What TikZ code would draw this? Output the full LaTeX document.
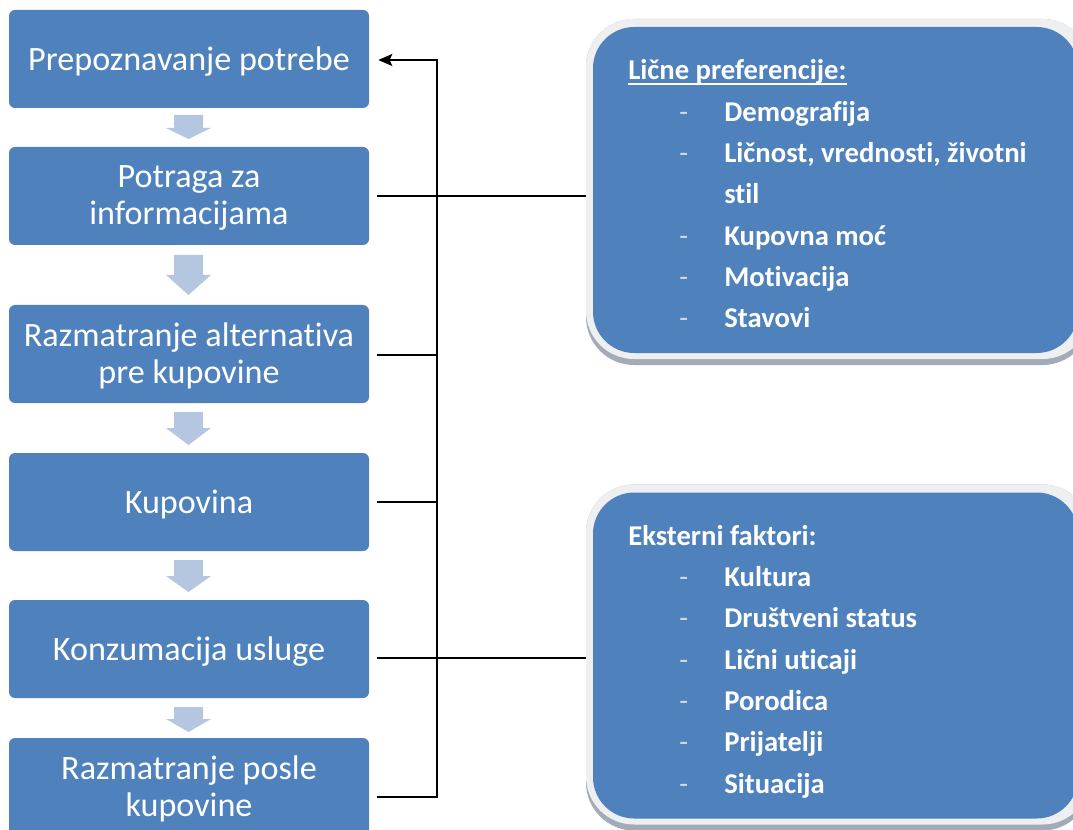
\documentclass[tikz,border=0pt]{standalone}
\usepackage{fontspec}
\setmainfont[RawFeature=-liga]{Carlito}
\usetikzlibrary{calc,arrows.meta}

\definecolor{boxblue}{HTML}{4F81BD}
\definecolor{arrowblue}{HTML}{B4C6E0}
\definecolor{rimgray}{HTML}{EEEFF1}
\definecolor{shadowgray}{HTML}{A3ABB8}
\definecolor{dashgray}{HTML}{D3DAE6}

% one drawing unit = one pixel
\newlength\pxu
\setlength\pxu{0.75pt}

% heading with a rule a little under the baseline
\newcommand\underheading[1]{\setbox0\hbox{#1}\rlap{\rule[-5\pxu]{\wd0}{1.5\pxu}}\box0}
% one list entry: light dash, then the bold text
\newcommand\entry[1]{\makebox[96\pxu][l]{\hspace{51\pxu}\textcolor{dashgray}{\mdseries -}}#1}
% block arrow pointing down: shaft top, head base, tip (y in px)
\newcommand\flowarr[3]{\fill[arrowblue] (174,#1) -- (203,#1) -- (203,#2) -- (211,#2) -- (188.5,#3) -- (166,#2) -- (174,#2) -- cycle;}

\tikzset{
  stepbox/.style={fill=boxblue, rounded corners=4.5pt, minimum width=270pt,
    minimum height=73.5pt, inner sep=0pt},
  steptext/.style={yshift=-1.6pt, inner sep=0pt, text=white, align=center,
    font=\fontsize{25.6}{27.75}\selectfont},
  factorbox/.style={fill=boxblue, rounded corners=31pt, minimum width=363.75pt,
    minimum height=244.5pt, inner sep=0pt},
  factortext/.style={anchor=base west, inner sep=0pt, text=white,
    font=\fontsize{21.5}{31}\selectfont\bfseries},
  conn/.style={draw=black, line width=1.4pt},
}

\begin{document}
\begin{tikzpicture}[x=0.75pt, y=-0.75pt]
\useasboundingbox (0,0) rectangle (1073,830);
\clip (0,0) rectangle (1073,830);

% process steps
\node[stepbox, label={[steptext]center:Prepoznavanje potrebe}] (b1) at (189,59) {};
\node[stepbox, label={[steptext]center:Potraga za\\informacijama}] (b2) at (189,196) {};
\node[stepbox, label={[steptext]center:Razmatranje alternativa\\pre kupovine}] (b3) at (189,354) {};
\node[stepbox, label={[steptext]center:Kupovina}] (b4) at (189,502) {};
\node[stepbox, label={[steptext]center:Konzumacija usluge}] (b5) at (189,649) {};
\node[stepbox, label={[steptext]center:Razmatranje posle\\kupovine}] (b6) at (189,787) {};

% arrows between the steps
\flowarr{115}{128}{139}
\flowarr{255}{275}{295}
\flowarr{412}{428}{445}
\flowarr{560}{576}{592}
\flowarr{707}{719}{732}

% feedback bus
\coordinate (busTop) at (437,60);
\coordinate (busBot) at (437,797);

% centres of the factor boxes
\coordinate (prefc) at (835.5,190);
\coordinate (extc) at (835.5,655.5);

\draw[conn, -{Stealth[length=10.5pt, width=9pt, inset=2pt]}]
  ($(b6.east)+(8,10)$) -- (busBot) -- (busTop) -- ($(b1.east)+(9,1)$);
\draw[conn] ($(b3.east)+(8,1)$) -- ($(b3.east)+(68,1)$);
\draw[conn] ($(b4.east)+(8,0)$) -- ($(b4.east)+(68,0)$);
\draw[conn] ($(b2.east)+(8,0)$) -- ($(b2.east)+(221,0)$);
\draw[conn] ($(b5.east)+(8,9)$) -- ($(b5.east)+(221,9)$);

% rims and shadows of the factor boxes
\foreach \c in {prefc, extc} {
  \fill[shadowgray, rounded corners=36pt] ($(\c)+(-249.5,-171)$) rectangle ($(\c)+(255,175)$);
  \fill[rimgray, rounded corners=36pt] ($(\c)+(-249.5,-171)$) rectangle ($(\c)+(255,169)$);
}
\node[factorbox] (pref) at (prefc) {};
\node[factorbox] (ext) at (extc) {};

\node[factortext] (preftext) at (628,80) {%
  \begin{tabular}[t]{@{}l@{}}
  \underheading{Lične preferencije:}\\
  \entry{Demografija}\\
  \entry{Ličnost, vrednosti, životni}\\
  \hspace{96\pxu}stil\\
  \entry{Kupovna moć}\\
  \entry{Motivacija}\\
  \entry{Stavovi}
  \end{tabular}};

\node[factortext] (exttext) at (628,545) {%
  \begin{tabular}[t]{@{}l@{}}
  Eksterni faktori:\\
  \entry{Kultura}\\
  \entry{Društveni status}\\
  \entry{Lični uticaji}\\
  \entry{Porodica}\\
  \entry{Prijatelji}\\
  \entry{Situacija}
  \end{tabular}};
\end{tikzpicture}
\end{document}
